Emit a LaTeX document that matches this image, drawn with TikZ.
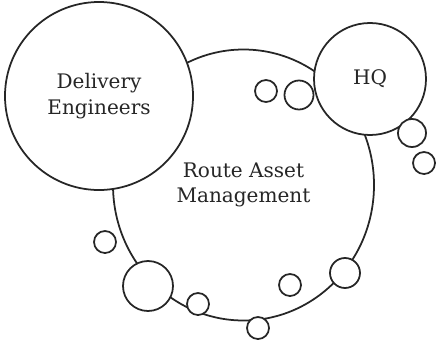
\documentclass[tikz,border=0pt]{standalone}
\usepackage{fontspec}
\setmainfont{DejaVu Serif}
\usetikzlibrary{shapes.geometric}
\begin{document}
\begin{tikzpicture}[
    bubble/.style={circle, draw=black!85, fill=white, line width=1pt, inner sep=0pt},
    label/.style={align=center, text=black!85, font=\fontsize{11.4}{14.6}\selectfont}]
  \useasboundingbox (0,0) rectangle (8.72,6.86);

  % main groups
  \node[bubble, label, ellipse, minimum width=5.22cm, minimum height=5.42cm] (ram) at (4.87,3.16) {Route Asset\\Management};
  \node[bubble, label, minimum size=3.76cm] (eng) at (1.98,4.94) {Delivery\\Engineers};
  \node[bubble, label, minimum size=2.24cm] (hq) at (7.40,5.28) {HQ};

  % small bubbles
  \node[bubble, minimum size=0.44cm] (b1) at (5.32,5.04) {};
  \node[bubble, minimum size=0.58cm] (b2) at (5.98,4.96) {};
  \node[bubble, minimum size=0.56cm] (b3) at (8.24,4.20) {};
  \node[bubble, minimum size=0.44cm] (b4) at (8.48,3.60) {};
  \node[bubble, minimum size=0.44cm] (b5) at (2.10,2.02) {};
  \node[bubble, minimum size=1.00cm] (b6) at (2.96,1.14) {};
  \node[bubble, minimum size=0.44cm] (b7) at (3.96,0.78) {};
  \node[bubble, minimum size=0.44cm] (b8) at (5.16,0.30) {};
  \node[bubble, minimum size=0.44cm] (b9) at (5.80,1.16) {};
  \node[bubble, minimum size=0.60cm] (b10) at (6.90,1.40) {};
\end{tikzpicture}
\end{document}
